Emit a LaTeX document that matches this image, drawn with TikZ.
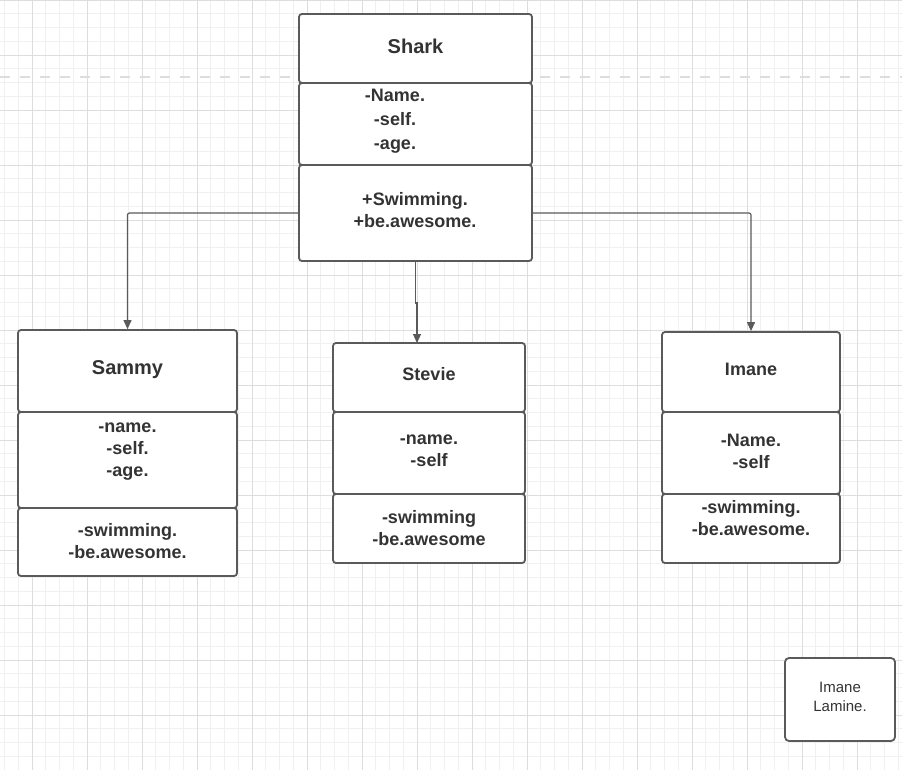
\documentclass[tikz,border=0pt]{standalone}
\usepackage{fontspec}
\setmainfont{Liberation Sans}
\usetikzlibrary{arrows.meta}
\definecolor{boxline}{HTML}{5A5A5A}
\definecolor{txt}{HTML}{333333}
\definecolor{gridminor}{HTML}{F0F0F0}
\definecolor{gridmajor}{HTML}{DDDDDD}
\definecolor{dashc}{HTML}{DDDDDD}
\begin{document}
\begin{tikzpicture}[x=1pt,y=-1pt,
  compart/.style={draw=boxline, line width=1.8pt, fill=white, rounded corners=3pt, inner sep=0pt},
  ttlbig/.style={font=\bfseries\fontsize{20}{24}\selectfont, text=txt, align=center, inner sep=0pt},
  ttlsm/.style={font=\bfseries\fontsize{18}{22}\selectfont, text=txt, align=center, inner sep=0pt},
  member/.style={font=\bfseries\fontsize{18}{22}\selectfont, text=txt, align=center, inner sep=0pt},
  memberwide/.style={font=\bfseries\fontsize{18}{24}\selectfont, text=txt, align=center, inner sep=0pt},
  note/.style={font=\fontsize{15}{19}\selectfont, text=txt, align=center, inner sep=0pt},
  conn/.style={draw=boxline, line width=1.2pt, -{Triangle[length=9pt,width=8pt]}}
]
\useasboundingbox (0,0) rectangle (902,770);
\fill[white] (0,0) rectangle (902,770);
% grid
\foreach \i in {0,...,65} {
  \draw[gridminor, line width=0.8pt] ({4.5+13.75*\i},0) -- ({4.5+13.75*\i},770);
}
\foreach \i in {0,...,56} {
  \draw[gridminor, line width=0.8pt] (0,{13.75*\i}) -- (902,{13.75*\i});
}
\foreach \i in {0,...,15} {
  \draw[gridmajor, line width=0.9pt] ({32+55*\i},0) -- ({32+55*\i},770);
}
\foreach \i in {0,...,14} {
  \draw[gridmajor, line width=0.9pt] (0,{55*\i}) -- (902,{55*\i});
}
% dashed guide
\draw[dashc, line width=1.6pt, dash pattern=on 10pt off 10pt] (0,77) -- (902,77);

% Shark
\node[compart, minimum width=233pt, minimum height=82pt] (shA) at (415.5,124) {};
\node[compart, minimum width=233pt, minimum height=69pt] (shT) at (415.5,48.5) {};
\node[compart, minimum width=233pt, minimum height=96pt] (shM) at (415.5,213) {};
\node[ttlbig] (shTt) at (415.5,46) {Shark};
\node[memberwide] (shAt) at (395,121) {-Name.\\-self.\\-age.};
\node[member] (shMt) at (415,210) {+Swimming.\\+be.awesome.};

% Sammy
\node[compart, minimum width=219pt, minimum height=96pt] (saA) at (127.5,460) {};
\node[compart, minimum width=219pt, minimum height=82pt] (saT) at (127.5,371) {};
\node[compart, minimum width=219pt, minimum height=68pt] (saM) at (127.5,542) {};
\node[ttlbig] (saTt) at (127.5,370) {Sammy};
\node[member] (saAt) at (127.5,452) {-name.\\-self.\\-age.};
\node[member] (saMt) at (127.5,541) {-swimming.\\-be.awesome.};

% Stevie
\node[compart, minimum width=192pt, minimum height=82pt] (stA) at (429,453) {};
\node[compart, minimum width=192pt, minimum height=69pt] (stT) at (429,377.5) {};
\node[compart, minimum width=192pt, minimum height=69pt] (stM) at (429,528.5) {};
\node[ttlsm] (stTt) at (429,374) {Stevie};
\node[member] (stAt) at (429,451) {-name.\\-self};
\node[member] (stMt) at (429,528) {-swimming\\-be.awesome};

% Imane
\node[compart, minimum width=178pt, minimum height=69pt] (imM) at (751,528.5) {};
\node[compart, minimum width=178pt, minimum height=80pt] (imT) at (751,372) {};
\node[compart, minimum width=178pt, minimum height=82pt] (imA) at (751,453) {};
\node[ttlsm] (imTt) at (751,369) {Imane};
\node[member] (imAt) at (751,451) {-Name.\\-self};
\node[member] (imMt) at (751,518) {-swimming.\\-be.awesome.};

% note
\node[compart, rounded corners=4pt, minimum width=110pt, minimum height=83pt] (nt) at (840,699.5) {};
\node[note] (ntt) at (840,697) {Imane\\Lamine.};

% connectors
\coordinate (stIn) at (417,343);
\draw[conn, rounded corners=2pt] (shM.west) -| (saT.north);
\draw[conn, rounded corners=2pt] (shM.east) -| (imT.north);
\draw[conn] (shM.south) -- ++(0,41) -| (stIn);
\end{tikzpicture}
\end{document}
